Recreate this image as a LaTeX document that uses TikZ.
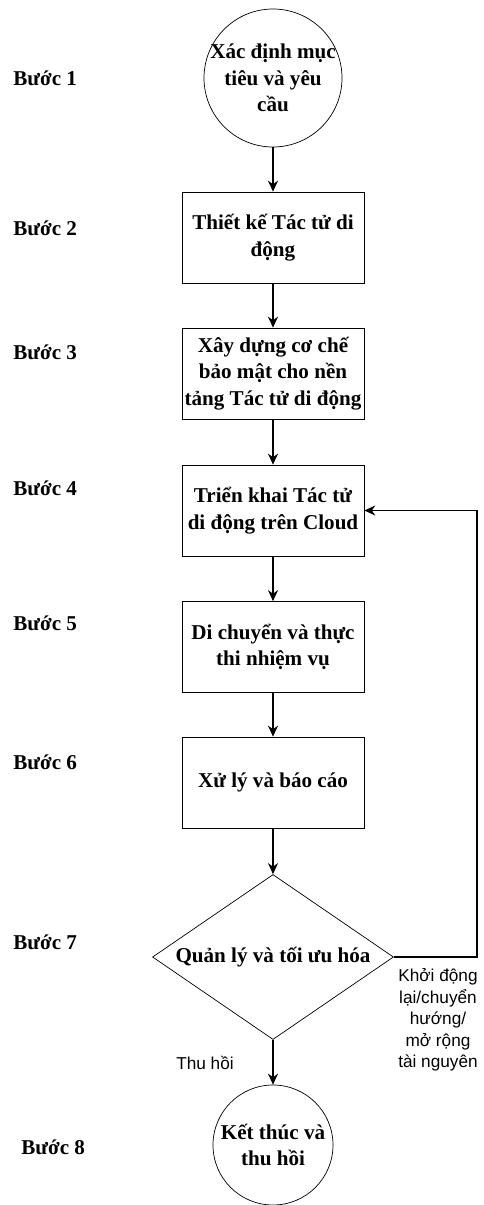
\documentclass[tikz,border=0pt]{standalone}
\usepackage{fontspec}
\setmainfont{Liberation Serif}
\newfontfamily\arialfont{Liberation Sans}
\usetikzlibrary{shapes.geometric}
\usetikzlibrary{arrows.meta}
\usetikzlibrary{positioning}

\begin{document}
\begin{tikzpicture}[
        boldtext/.style={font=\fontsize{12}{15}\selectfont\bfseries},
        stepbox/.style={draw, rectangle, boldtext, align=center, inner sep=1pt,
            minimum width=3.64cm, minimum height=1.82cm},
        endpoint/.style={draw, circle, inner sep=0pt},
        circtext/.style={boldtext, align=center},
        decision/.style={draw, diamond, boldtext, aspect=1.46, inner sep=0pt,
            minimum width=4.82cm, minimum height=3.3cm},
        steplabel/.style={anchor=west, inner sep=0pt, boldtext},
        note/.style={align=center, inner sep=0pt, font=\arialfont\fontsize{9.8}{12.2}\selectfont},
        flow/.style={-{Stealth[length=2.2mm, width=2mm]}, line width=0.7pt}
    ]
        \useasboundingbox (0, 0) rectangle (9.66, -24.1);

        % step names on the left
        \foreach \n/\x/\y in {1/0.26/-1.56, 2/0.26/-4.56, 3/0.26/-7.04, 4/0.26/-9.76,
                              5/0.26/-12.46, 6/0.26/-15.24, 7/0.26/-18.84, 8/0.42/-22.94}
            \node[steplabel] (b\n) at (\x, \y) {Bước \n};

        % flow
        \node[endpoint, minimum size=2.76cm,
            label={[circtext]center:Xác định mục\\tiêu và yêu\\cầu}] (s1) at (5.46, -1.56) {};
        \node[stepbox] (s2) at (5.46, -4.75) {Thiết kế Tác tử di\\động};
        \node[stepbox] (s3) at (5.46, -7.47) {Xây dựng cơ chế\\bảo mật cho nền\\tảng Tác tử di động};
        \node[stepbox] (s4) at (5.46, -10.21) {Triển khai Tác tử\\di động trên Cloud};
        \node[stepbox] (s5) at (5.46, -12.94) {Di chuyển và thực\\thi nhiệm vụ};
        \node[stepbox] (s6) at (5.46, -15.65) {Xử lý và báo cáo};
        \node[decision] (s7) at (5.46, -19.14) {Quản lý và tối ưu hóa};
        \node[endpoint, minimum size=2.4cm,
            label={[circtext]center:Kết thúc và\\thu hồi}] (s8) at (5.46, -22.9) {};

        \draw[flow] (s1) -- (s2);
        \draw[flow] (s2) -- (s3);
        \draw[flow] (s3) -- (s4);
        \draw[flow] (s4) -- (s5);
        \draw[flow] (s5) -- (s6);
        \draw[flow] (s6) -- (s7);
        \draw[flow] (s7) -- (s8);

        % loop back to step 4
        \coordinate (back) at (9.54, -10.21);
        \draw[flow] (s7.east) -| (back) -- (s4.east);

        \node[note] (retry) at (8.76, -20.4) {Khởi động\\lại/chuyển\\hướng/\\mở rộng\\tài nguyên};
        \node[note] (recall) at (4.10, -21.26) {Thu hồi};
    \end{tikzpicture}
\end{document}
